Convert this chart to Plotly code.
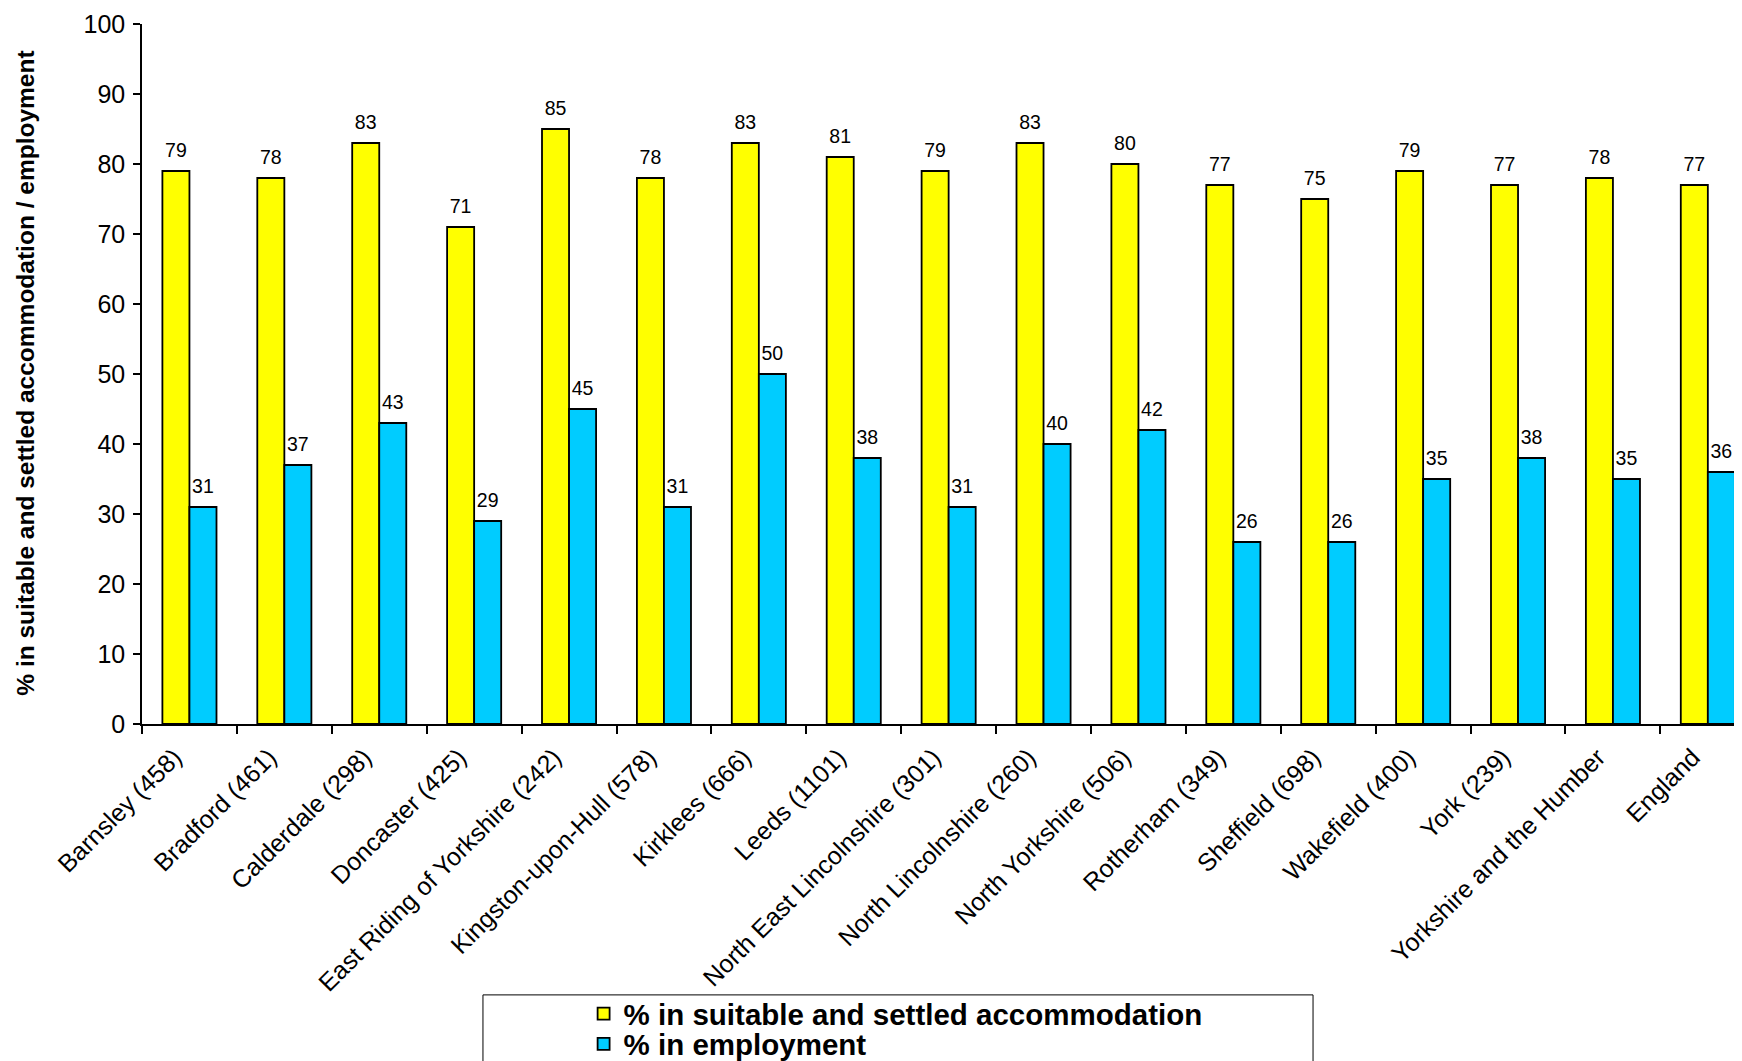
import plotly.graph_objects as go

categories = [
    "Barnsley (458)", "Bradford (461)", "Calderdale (298)", "Doncaster (425)",
    "East Riding of Yorkshire (242)", "Kingston-upon-Hull (578)", "Kirklees (666)",
    "Leeds (1101)", "North East Lincolnshire (301)", "North Lincolnshire (260)",
    "North Yorkshire (506)", "Rotherham (349)", "Sheffield (698)", "Wakefield (400)",
    "York (239)", "Yorkshire and the Humber", "England",
]
accommodation = [79, 78, 83, 71, 85, 78, 83, 81, 79, 83, 80, 77, 75, 79, 77, 78, 77]
employment = [31, 37, 43, 29, 45, 31, 50, 38, 31, 40, 42, 26, 26, 35, 38, 35, 36]

series_names = ["% in suitable and settled accommodation", "% in employment"]
y_ticks = [0, 10, 20, 30, 40, 50, 60, 70, 80, 90, 100]
y_title = "% in suitable and settled accommodation / employment"

FONT = "Arial, Liberation Sans, sans-serif"
BARGAP = 0.43

fig = go.Figure()
fig.add_trace(go.Bar(
    x=categories, y=accommodation, name=series_names[0],
    marker=dict(color="#FFFF00", line=dict(color="#000000", width=1.8)),
    offsetgroup="a", legend="legend",
))
fig.add_trace(go.Bar(
    x=categories, y=employment, name=series_names[1],
    marker=dict(color="#00CCFF", line=dict(color="#000000", width=1.8)),
    offsetgroup="b", legend="legend2",
))
# value labels, grouped like the bars
for vals, grp in ((accommodation, "a"), (employment, "b")):
    fig.add_trace(go.Scatter(
        x=categories, y=vals, mode="markers+text",
        text=[str(v) for v in vals], textposition="top center",
        textfont=dict(size=19.5, color="#000000", family=FONT),
        marker=dict(size=13, color="rgba(0,0,0,0)"),
        offsetgroup=grp, showlegend=False, hoverinfo="skip", cliponaxis=False,
    ))

legend_common = dict(
    font=dict(size=29.5, family=FONT, color="#000000", weight="bold"),
    bgcolor="rgba(0,0,0,0)", borderwidth=0,
    xanchor="left", yanchor="middle",
)

fig.update_layout(
    width=1734, height=1053,
    margin=dict(l=134, r=0, t=16, b=337, autoexpand=False),
    paper_bgcolor="#FFFFFF", plot_bgcolor="#FFFFFF",
    barmode="group", bargap=BARGAP, bargroupgap=0,
    scattermode="group", scattergap=BARGAP,
    font=dict(family=FONT, color="#000000"),
    showlegend=True,
    legend=dict(x=0.276, y=-0.4142, **legend_common),
    legend2=dict(x=0.276, y=-0.4575, **legend_common),
    xaxis=dict(
        type="category", range=[-0.5, 16.36], automargin=False,
        showline=True, linecolor="#000000", linewidth=1.5,
        ticks="outside", tickson="boundaries", ticklen=8, tickcolor="#000000", tickwidth=1.5,
        tickangle=-45, ticklabelstandoff=7, ticklabelshift=-15,
        tickfont=dict(size=25, family=FONT, color="#000000"),
        showgrid=False, zeroline=False,
    ),
    yaxis=dict(
        range=[0, 100], tickvals=y_ticks, automargin=False,
        showline=True, linecolor="#000000", linewidth=1.5,
        ticks="outside", ticklen=7, tickcolor="#000000", tickwidth=1.5,
        ticklabelstandoff=3,
        tickfont=dict(size=25, family=FONT, color="#000000"),
        showgrid=False, zeroline=False,
    ),
    shapes=[dict(
        type="rect", xref="paper", yref="paper",
        x0=0.2131, x1=0.7319, y0=-0.387, y1=-0.62,
        line=dict(color="#000000", width=1), fillcolor="rgba(0,0,0,0)",
        layer="below",
    )],
    annotations=[dict(
        text=y_title, xref="paper", yref="paper", x=-0.073, y=0.5007,
        textangle=-90, showarrow=False, xanchor="center", yanchor="middle",
        font=dict(size=24.5, family=FONT, color="#000000", weight="bold"),
    )],
)

fig.write_html("out.html")
